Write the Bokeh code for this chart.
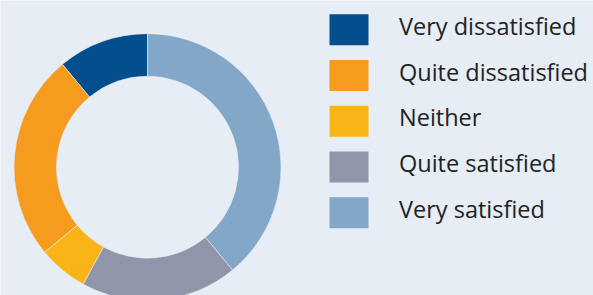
import numpy as np
from bokeh.plotting import figure
from bokeh.models import ColumnDataSource
from bokeh.core.properties import value
from bokeh.embed import file_html
from bokeh.resources import INLINE

categories = ["Very dissatisfied", "Quite dissatisfied", "Neither", "Quite satisfied", "Very satisfied"]
values = [11, 25, 6, 19, 39]
colors = ["#034e8c", "#f59c1f", "#f9b517", "#9095a9", "#82a7c8"]

BG = "#e6edf5"
W, H = 593, 295

fracs = np.array(values, dtype=float) / sum(values)
cum = np.concatenate([[0.0], np.cumsum(fracs)])
start = np.pi / 2 + cum[:-1] * 2 * np.pi
end = np.pi / 2 + cum[1:] * 2 * np.pi

src = ColumnDataSource(dict(cat=categories, color=colors, start=start, end=end))

p = figure(width=W, height=H, x_range=(0, W), y_range=(0, H),
           output_backend="svg", toolbar_location=None, min_border=0)
p.axis.visible = False
p.grid.visible = False
p.outline_line_color = None
p.background_fill_color = BG
p.border_fill_color = BG

cx, cy = 147, H - 166.7
p.annular_wedge(x=cx, y=cy, inner_radius=91, outer_radius=133.5,
                start_angle="start", end_angle="end", direction="anticlock",
                fill_color="color", line_color=BG, line_width=0.6, source=src)

# legend
n = len(categories)
row_center = [29.3 + 45.75 * i for i in range(n)]
row_y = [H - c for c in row_center]
text_y = [H - (c - 4) for c in row_center]
leg = ColumnDataSource(dict(cat=categories, color=colors, y=row_y, ty=text_y,
                            x=[348.5] * n, tx=[398.5] * n))
p.rect(x="x", y="y", width=39, height=31, fill_color="color", line_color=None, source=leg)
p.text(x="tx", y="ty", text="cat", text_font=value("Open Sans"), text_font_size="23.5px",
       text_color="#222222", text_baseline="middle", text_align="left", source=leg)

open("out.html", "w").write(file_html(p, INLINE))
